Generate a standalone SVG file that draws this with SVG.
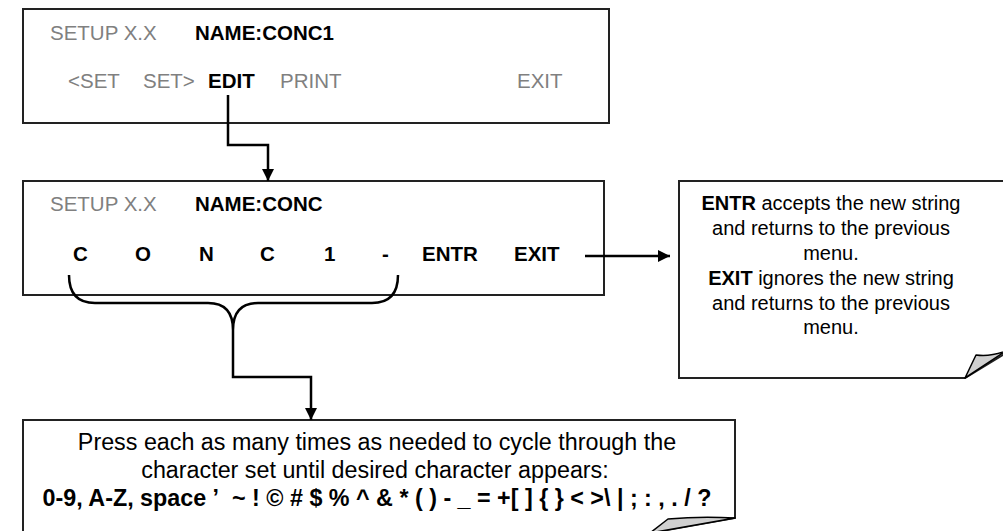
<svg xmlns="http://www.w3.org/2000/svg" width="1003" height="531" viewBox="0 0 1003 531">
<defs>
<style>
text{font-family:"Liberation Sans",Arial,sans-serif;font-size:20.5px;fill:#000}
.g{fill:#808080}
.b{font-weight:bold}
.n{font-size:20px}
.p{font-size:23.3px}
.box{fill:#fff;stroke:#222;stroke-width:2}
.c{fill:none;stroke:#000;stroke-width:2.5}
.fold{fill:#d0d0d0;stroke:#000;stroke-width:1.5;stroke-linejoin:round}
.m{text-anchor:middle}
</style>
<marker id="ah" viewBox="0 0 10 10" refX="10" refY="5" markerWidth="5" markerHeight="5" orient="auto" markerUnits="strokeWidth">
<path d="M0,0 L10,5 L0,10 Z" fill="#000"/>
</marker>
</defs>
<rect width="1003" height="531" fill="#fff"/>
<g id="box1">
<rect class="box" x="23" y="9" width="586" height="114"/>
<text class="g" x="50" y="40">SETUP X.X</text>
<text class="b" x="195" y="40">NAME:CONC1</text>
<text class="g" x="68" y="88">&lt;SET</text>
<text class="g" x="143" y="88">SET&gt;</text>
<text class="b" x="208" y="88">EDIT</text>
<text class="g" x="280" y="88">PRINT</text>
<text class="g" x="517" y="88">EXIT</text>
</g>
<g id="box2">
<rect class="box" x="23" y="181" width="581" height="114"/>
<text class="g" x="50" y="211">SETUP X.X</text>
<text class="b" x="195" y="211">NAME:CONC</text>
<text class="b" x="73" y="261">C</text>
<text class="b" x="135" y="261">O</text>
<text class="b" x="199" y="261">N</text>
<text class="b" x="260" y="261">C</text>
<text class="b" x="324" y="261">1</text>
<text class="b" x="382" y="261">-</text>
<text class="b" x="422" y="261">ENTR</text>
<text class="b" x="514" y="261">EXIT</text>
</g>
<g id="note">
<path class="box" d="M679,181 L1006,181 L1006,353 L965,378 L679,378 Z"/>
<path class="fold" d="M965,378 L976,355 Q990,357 1006,351 Z"/>
<text class="m n" x="831" y="210"><tspan class="b">ENTR</tspan> accepts the new string</text>
<text class="m n" x="831" y="235">and returns to the previous</text>
<text class="m n" x="831" y="260">menu.</text>
<text class="m n" x="831" y="285"><tspan class="b">EXIT</tspan> ignores the new string</text>
<text class="m n" x="831" y="310">and returns to the previous</text>
<text class="m n" x="831" y="334">menu.</text>
</g>
<g id="charset">
<path class="box" d="M23,545 L23,420 L735,420 L735,518 L650,533"/>
<path class="fold" d="M650,533 L668,519 Q700,516 735,518 Z"/>
<text class="m p" x="377" y="450">Press each as many times as needed to cycle through the</text>
<text class="m p" x="375" y="478">character set until desired character appears:</text>
<text class="m p b" x="377" y="506">0-9, A-Z, space ’&#160; ~ ! © # $ % ^ &amp; * ( ) - _ = +[ ] { } &lt; &gt;\ | ; : , . / ?</text>
</g>
<g id="connectors">
<path class="c" d="M228,95 V145 H268 V181" marker-end="url(#ah)"/>
<path class="c" d="M585,256 H670" marker-end="url(#ah)"/>
<path class="c" d="M69,275 Q69,303 95,303 L208,303 Q233,303 233,330 Q233,303 258,303 L372,303 Q398,303 398,275"/>
<path class="c" d="M233,330 V377 H311 V420" marker-end="url(#ah)"/>
</g>
</svg>
